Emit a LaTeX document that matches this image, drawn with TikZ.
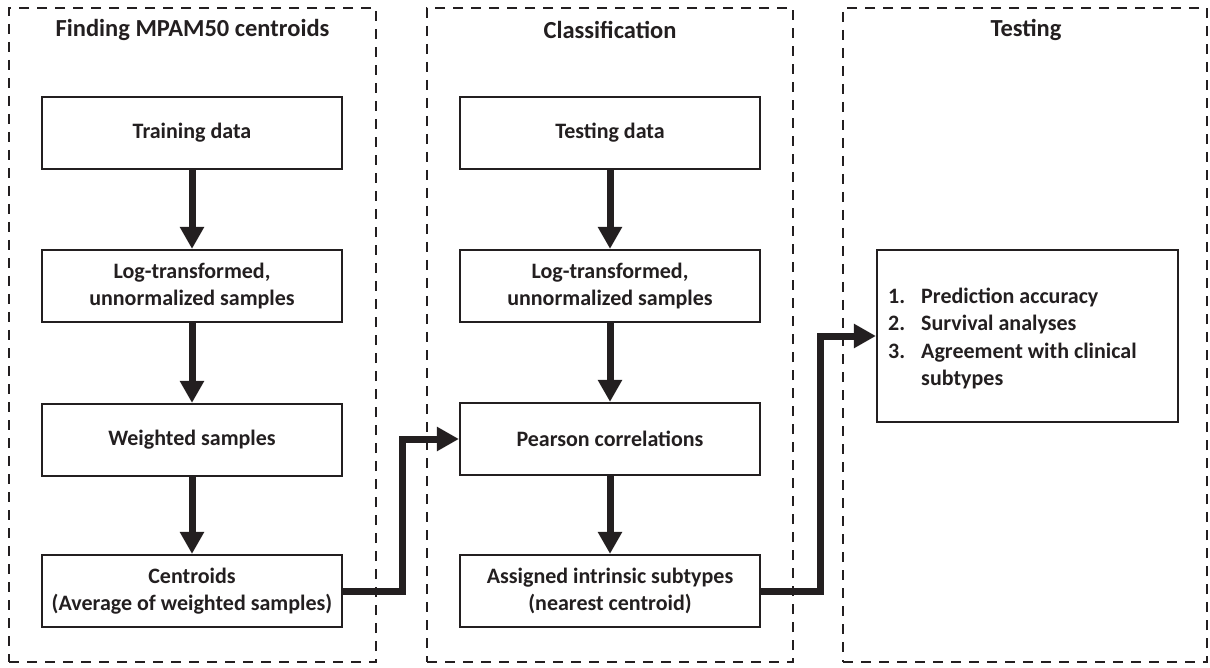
\documentclass[tikz,border=0pt]{standalone}
\usepackage{fontspec}
\setmainfont{Carlito}
\usetikzlibrary{arrows.meta}
\definecolor{ink}{HTML}{231F20}
\begin{document}
\begin{tikzpicture}[x=1pt,y=-1pt,
  font=\fontsize{22}{27}\selectfont\bfseries, text=ink,
  group/.style={draw=ink, line width=2.5pt, dash pattern=on 10pt off 8pt, inner sep=0pt},
  title/.style={font=\fontsize{24.5}{28}\selectfont\bfseries},
  stepbox/.style={draw=ink, line width=2.2pt, minimum width=300pt, minimum height=72pt, align=center, inner sep=0pt},
  flow/.style={draw=ink, line width=7pt, line join=miter, -{Triangle[length=22pt,width=23pt]}},
]
\useasboundingbox (0,0) rectangle (1210,668);
% groups
\node[group, minimum width=367pt, minimum height=654pt] (g1) at (192.5,335) {};
\node[group, minimum width=366pt, minimum height=654pt] (g2) at (610,335) {};
\node[group, minimum width=364pt, minimum height=654pt] (g3) at (1025,335) {};
\node[title] (t1) at (192.5,30) {Finding MPAM50 centroids};
\node[title] (t2) at (610,30) {Classification};
\node[title] (t3) at (1026,30) {Testing};
% column 1
\node[stepbox] (train) at (192,133) {Training data};
\node[stepbox] (log1) at (192,286) {Log-transformed,\\unnormalized samples};
\node[stepbox] (wei) at (192,440) {Weighted samples};
\node[stepbox] (cen) at (192,591) {Centroids\\(Average of weighted samples)};
% column 2
\node[stepbox] (test) at (610,133) {Testing data};
\node[stepbox] (log2) at (610,286) {Log-transformed,\\unnormalized samples};
\node[stepbox] (pear) at (610,439) {Pearson correlations};
\node[stepbox] (ass) at (610,591) {Assigned intrinsic subtypes\\(nearest centroid)};
% testing box
\node[stepbox, minimum width=301pt, minimum height=172pt] (res) at (1027.5,336) {};
\node[anchor=north west, inner sep=0pt, align=left] (list) at (888,284) {%
\fontsize{22}{27.4}\selectfont
\begin{tabular}{@{}l@{\hspace{16pt}}l@{}}
1. & Prediction accuracy\\
2. & Survival analyses\\
3. & Agreement with clinical\\
   & subtypes
\end{tabular}};
% arrows
\draw[flow] (train) -- (log1);
\draw[flow] (log1) -- (wei);
\draw[flow] (wei) -- (cen);
\draw[flow] (test) -- (log2);
\draw[flow] (log2) -- (pear);
\draw[flow] (pear) -- (ass);
\draw[flow] (cen.east) -- ++(59,0) |- (pear.west);
\draw[flow] (ass.east) -- ++(59,0) |- (res.west);
\end{tikzpicture}
\end{document}
